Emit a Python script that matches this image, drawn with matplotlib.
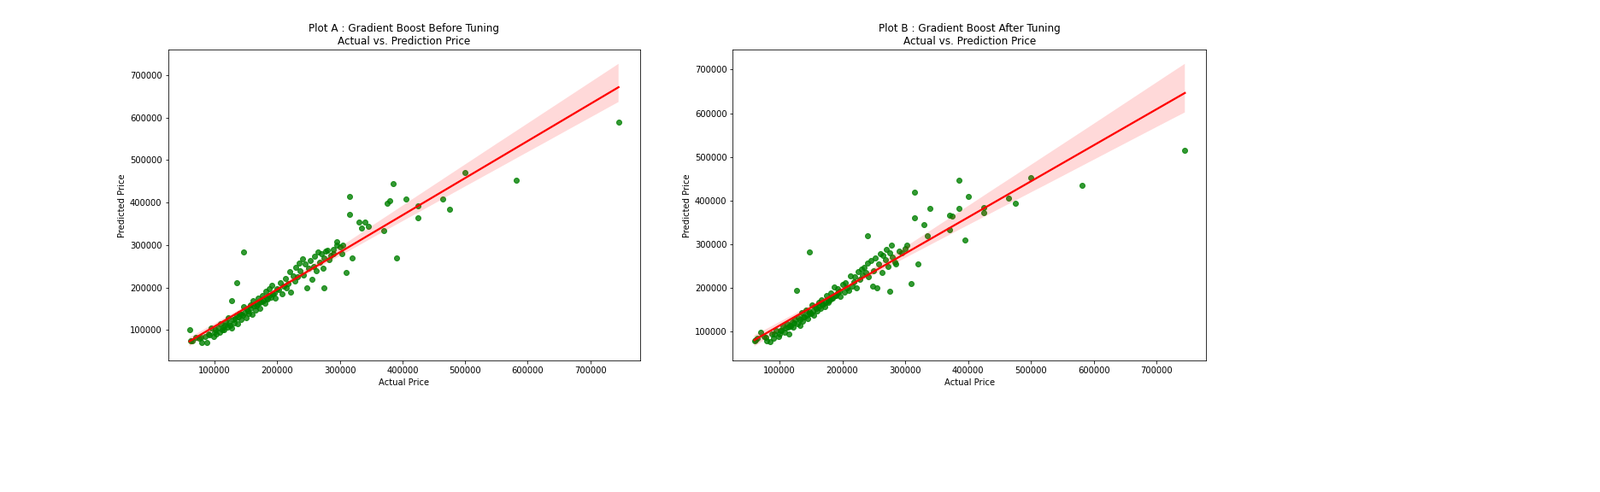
import matplotlib
matplotlib.use("Agg")
import matplotlib.pyplot as plt
import seaborn as sns
import numpy as np

bulk_actual = [60000,65000,70000,75000,80000,85000,88000,90000,95000,98000,100000,103000,105000,108000,110000,112000,115000,118000,120000,122000,125000,127000,128000,130000,132000,135000,137000,140000,142000,145000,147000,150000,152000,155000,157000,160000,162000,165000,167000,170000,172000,175000,177000,180000,182000,185000,187000,190000,192000,195000,197000,200000,203000,205000,208000,210000,213000,215000,218000,220000,222000,225000,228000,230000,232000,235000,237000,240000,242000,245000,248000,250000,253000,255000,258000,260000,263000,265000,268000,270000,273000,275000,278000,280000,283000,285000,290000,295000,300000,303000,
               62000,78000,92000,102000,113000,117000,123000,133000,138000,143000,148000,153000,158000,163000,168000,173000,178000,183000,188000,193000]
bulk_pred_a = [100000,75000,82000,80000,70000,85000,70000,90000,105000,85000,95000,90000,105000,95000,115000,100000,100000,120000,108000,130000,112000,170000,105000,125000,118000,135000,115000,140000,125000,135000,155000,130000,150000,140000,160000,138000,170000,148000,158000,175000,152000,168000,182000,163000,192000,173000,198000,178000,205000,188000,175000,198000,195000,212000,185000,203000,222000,200000,210000,238000,190000,228000,215000,248000,225000,258000,240000,268000,230000,255000,200000,245000,263000,220000,250000,273000,240000,283000,260000,280000,245000,270000,285000,288000,265000,275000,290000,308000,295000,280000,
               75000,82000,88000,100000,108000,112000,118000,128000,132000,138000,142000,146000,152000,158000,162000,166000,170000,176000,182000,186000]
bulk_pred_b = [80000,85000,98000,90000,80000,78000,95000,85000,102000,90000,95000,103000,112000,98000,108000,118000,95000,112000,122000,110000,128000,195000,118000,133000,115000,143000,125000,135000,150000,130000,145000,142000,162000,138000,158000,148000,168000,153000,173000,163000,158000,183000,168000,173000,188000,178000,203000,183000,198000,193000,180000,208000,190000,213000,200000,195000,228000,205000,215000,225000,200000,238000,220000,243000,230000,248000,235000,258000,225000,263000,205000,240000,268000,200000,255000,278000,235000,275000,265000,288000,250000,280000,298000,270000,260000,255000,285000,280000,290000,298000,
               82000,88000,95000,102000,110000,114000,120000,128000,134000,138000,142000,148000,154000,158000,164000,168000,172000,178000,182000,188000]

out_actual_a = [745000,582000,500000,475000,465000,425000,425000,405000,390000,385000,380000,375000,370000,345000,340000,335000,330000,315000,315000,310000,320000,147000,135000,305000,295000,290000,275000]
out_pred_a = [590000,452000,470000,385000,408000,392000,365000,408000,270000,445000,405000,398000,335000,345000,355000,340000,355000,415000,372000,235000,270000,283000,212000,300000,300000,280000,200000]
out_actual_b = [745000,582000,500000,475000,465000,425000,425000,395000,400000,385000,385000,375000,370000,370000,340000,335000,330000,315000,315000,310000,320000,147000,240000,275000]
out_pred_b = [515000,435000,453000,393000,405000,385000,372000,310000,410000,447000,383000,365000,333000,367000,382000,320000,345000,420000,360000,210000,255000,283000,320000,192000]

xa = np.array(bulk_actual + out_actual_a)
ya = np.array(bulk_pred_a + out_pred_a)
xb = np.array(bulk_actual + out_actual_b)
yb = np.array(bulk_pred_b + out_pred_b)

fig = plt.figure(figsize=(26, 8), dpi=72)
ax1 = fig.add_axes([0.105, 0.267, 0.295, 0.632])
ax2 = fig.add_axes([0.458, 0.267, 0.296, 0.632])

for ax, x, y, t in [(ax1, xa, ya, "Plot A : Gradient Boost Before Tuning\nActual vs. Prediction Price"),
                    (ax2, xb, yb, "Plot B : Gradient Boost After Tuning\nActual vs. Prediction Price")]:
    sns.regplot(x=x, y=y, ax=ax, color="red",
                scatter_kws={"color": "green"}, line_kws={"color": "red"})
    ax.set_title(t)
    ax.set_xlabel("Actual Price")
    ax.set_ylabel("Predicted Price")

fig.savefig("out.png", dpi=72)
